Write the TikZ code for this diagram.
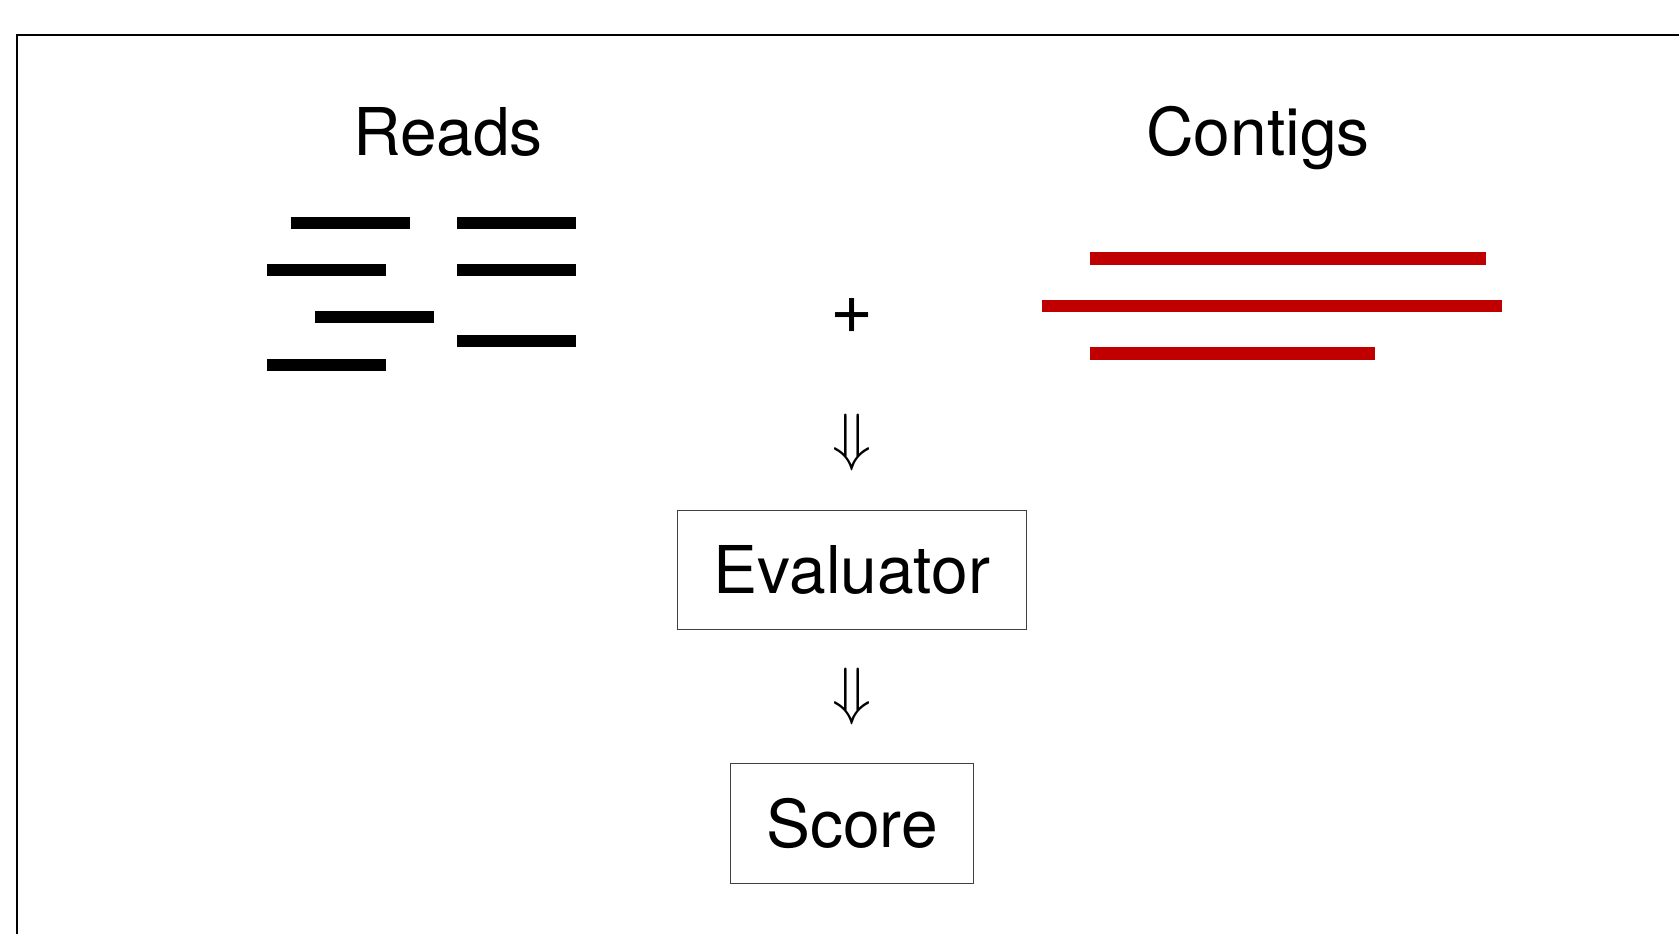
\RequirePackage{fix-cm}
\documentclass[tikz,border=0pt]{standalone}
\usepackage{fontspec}
\setmainfont{TeX Gyre Heros}
\usepackage{xcolor}
\usepackage{tikz}
\usetikzlibrary{positioning}

\definecolor{contigred}{RGB}{192,0,0}

\tikzset{
    bigtext/.style={font=\fontsize{37.5}{44}\selectfont},
    readbar/.style={line width=0.24cm, black},
    contigbar/.style={line width=0.25cm, contigred},
    evalbox/.style={rectangle, draw=black!75, line width=0.6pt, bigtext}
}

\begin{document}
\begin{tikzpicture}[x=0.02cm, y=-0.02cm, node distance=2.54cm]
    \useasboundingbox (0,0) rectangle (1679,934);
    % Frame
    \draw [line width=0.7pt] (17,934) -- (17,35) -- (1679,35);

    % Titles
    \node [bigtext, anchor=base] (reads) at (448,155) {Reads};
    \node [bigtext, anchor=base] (contigs) at (1258,155) {Contigs};

    % Reads
    \draw [readbar] (291,222.5) -- (410,222.5);
    \draw [readbar] (267,270) -- (386,270);
    \draw [readbar] (315,317.3) -- (433.5,317.3);
    \draw [readbar] (267,364.5) -- (386,364.5);
    \draw [readbar] (457,222.5) -- (576,222.5);
    \draw [readbar] (457,270) -- (576,270);
    \draw [readbar] (457,341) -- (576,341);

    % Contigs
    \draw [contigbar] (1089.5,258.7) -- (1486,258.7);
    \draw [contigbar] (1042,306) -- (1502,306);
    \draw [contigbar] (1089.5,353.5) -- (1375,353.5);

    % Pipeline
    \node [font=\fontsize{42}{48}\selectfont] (plus) at (852,316) {+};
    \node [font=\fontsize{36.4}{44}\selectfont, below of=plus] (down1) {$\Downarrow$};
    \node [evalbox, minimum width=6.98cm, minimum height=2.37cm, below of=down1] (evaluator) {Evaluator};
    \node [font=\fontsize{36.4}{44}\selectfont, below of=evaluator] (down2) {$\Downarrow$};
    \node [evalbox, minimum width=4.86cm, minimum height=2.4cm, below of=down2] (score) {Score};
\end{tikzpicture}
\end{document}
